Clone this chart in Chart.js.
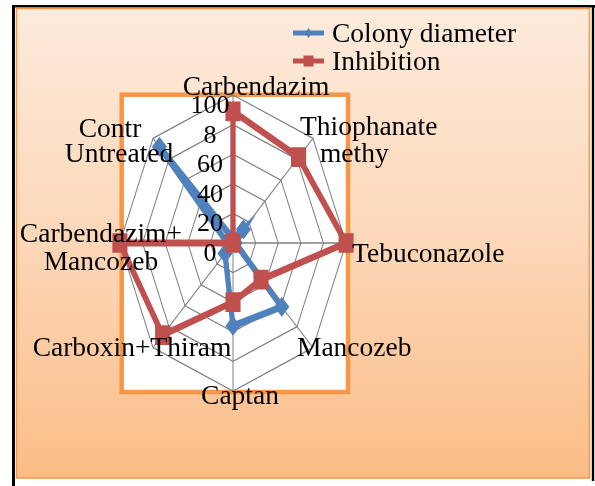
<!DOCTYPE html>
<html>
<head>
<meta charset="utf-8">
<script src="https://cdn.jsdelivr.net/npm/chart.js@4.4.0/dist/chart.umd.min.js"></script>
<style>
  html, body { margin: 0; padding: 0; background: #fff; }
  #wrap { position: relative; width: 595px; height: 486px; }
</style>
</head>
<body>
<div id="wrap"><canvas id="radar"></canvas></div>
<script>
// data
const categories = [["Carbendazim"], ["Thiophanate", "methy"], ["Tebuconazole"], ["Mancozeb"],
                    ["Captan"], ["Carboxin+Thiram"], ["Carbendazim+", "Mancozeb"], ["Contr", "Untreated"]];
const colonyDiameter = [3, 13, 2, 61, 56, 10, 5, 92];
const inhibition = [89, 82, 100, 35, 40, 88, 100, 0];
const tickValues = [0, 20, 40, 60, 80, 100];
const tickLabels = ["0", "20", "40", "60", "8", "100"];
const seriesNames = ["Colony diameter", "Inhibition"];
const seriesColors = ["#4f81bd", "#c0504d"];

const SX = 0.764; // picture is squeezed sideways
const FONT = '27.5px "Liberation Serif", "Times New Roman", serif';

// where each category text sits, relative to the outer corner of its spoke
const labelPos = [
  [{dx: 23, dy: 0, al: 'center'}],
  [{dx: -13, dy: -3, al: 'left'}, {dx: 7, dy: 24, al: 'left'}],
  [{dx: 6, dy: 19, al: 'left'}],
  [{dx: -16, dy: 8, al: 'left'}],
  [{dx: 7, dy: 13, al: 'center'}],
  [{dx: -21, dy: 8, al: 'center'}],
  [{dx: -19, dy: -1, al: 'center'}, {dx: -19, dy: 27, al: 'center'}],
  [{dx: -43, dy: -1, al: 'center'}, {dx: -34, dy: 24, al: 'center'}]
];

const squash = {
  id: 'squash',
  beforeDraw(chart) {
    const ctx = chart.ctx, r = chart.scales.r;
    ctx.save();
    ctx.fillStyle = '#fff';
    ctx.fillRect(0, 0, chart.width, chart.height);
    // black frame
    ctx.fillStyle = '#000';
    ctx.fillRect(12, 5, 3, 481);
    ctx.fillRect(12, 5, 583, 2.5);
    ctx.fillRect(591.8, 5, 2.4, 476);
    // peach panel
    const g = ctx.createLinearGradient(0, 8, 0, 478);
    g.addColorStop(0, '#fdebdc');
    g.addColorStop(0.5, '#fcd7b8');
    g.addColorStop(1, '#fbbd87');
    ctx.fillStyle = g;
    ctx.fillRect(16.5, 8.5, 573, 469.5);
    ctx.strokeStyle = '#f79646';
    ctx.lineWidth = 1.5;
    ctx.strokeRect(16.5, 8.5, 573, 469.5);
    // white plot box with orange border
    ctx.fillStyle = '#fff';
    ctx.fillRect(121.7, 94.7, 226.3, 297.3);
    ctx.lineWidth = 4.5;
    ctx.strokeRect(121.7, 94.7, 226.3, 297.3);
    ctx.restore();
    // squeeze the radar itself
    ctx.save();
    ctx.translate(r.xCenter, 0);
    ctx.scale(SX, 1);
    ctx.translate(-r.xCenter, 0);
  },
  afterDatasetsDraw(chart) {
    chart.ctx.restore();
  },
  afterDraw(chart) {
    const ctx = chart.ctx, r = chart.scales.r;
    const cx = r.xCenter, cy = r.yCenter;
    ctx.save();
    ctx.fillStyle = '#000';
    ctx.font = FONT;
    ctx.textBaseline = 'alphabetic';
    categories.forEach((lines, i) => {
      const p = r.getPointPosition(i, r.drawingArea);
      const vx = cx + (p.x - cx) * SX, vy = p.y;
      lines.forEach((txt, k) => {
        const lp = labelPos[i][k];
        ctx.textAlign = lp.al;
        ctx.fillText(txt, vx + lp.dx, vy + lp.dy);
      });
    });
    // tick numbers
    ctx.font = '26px "Liberation Serif", "Times New Roman", serif';
    ctx.textAlign = 'center';
    tickValues.forEach((v, i) => {
      const y = cy - r.getDistanceFromCenterForValue(v);
      ctx.fillText(tickLabels[i], cx - 23, y + 18);
    });
    // legend
    ctx.font = FONT;
    ctx.textAlign = 'left';
    seriesNames.forEach((name, i) => {
      const y = 33 + i * 28;
      ctx.strokeStyle = seriesColors[i];
      ctx.fillStyle = seriesColors[i];
      ctx.lineWidth = 5;
      ctx.beginPath();
      ctx.moveTo(293, y);
      ctx.lineTo(324, y);
      ctx.stroke();
      if (i === 0) {
        ctx.beginPath();
        ctx.moveTo(308.5, y - 5);
        ctx.lineTo(312, y);
        ctx.lineTo(308.5, y + 5);
        ctx.lineTo(305, y);
        ctx.closePath();
        ctx.fill();
      } else {
        ctx.fillRect(303.5, y - 5.5, 10, 11);
      }
      ctx.fillStyle = '#000';
      ctx.fillText(name, 332, y + 9);
    });
    ctx.restore();
  }
};

new Chart("radar", {
  type: 'radar',
  data: {
    labels: categories.map(c => c.join(' ')),
    datasets: [{
      label: seriesNames[0],
      data: colonyDiameter,
      borderColor: seriesColors[0],
      backgroundColor: seriesColors[0],
      borderWidth: 7,
      pointStyle: 'rectRot',
      pointRadius: 5,
      pointBackgroundColor: seriesColors[0],
      pointBorderColor: seriesColors[0],
      fill: false,
      clip: false,
      order: 2
    }, {
      label: seriesNames[1],
      data: inhibition,
      borderColor: seriesColors[1],
      backgroundColor: seriesColors[1],
      borderWidth: 7,
      pointStyle: 'rect',
      pointRadius: 9,
      pointBackgroundColor: seriesColors[1],
      pointBorderColor: seriesColors[1],
      fill: false,
      clip: false,
      order: 1
    }]
  },
  options: {
    responsive: true,
    maintainAspectRatio: false,
    animation: false,
    layout: { padding: { left: 85, right: 214, top: 95, bottom: 95 } },
    plugins: { legend: { display: false }, tooltip: { enabled: false } },
    scales: {
      r: {
        min: 0,
        max: 100,
        ticks: { display: false, stepSize: 20 },
        pointLabels: { display: false },
        grid: { color: '#808080', lineWidth: 1.3 },
        angleLines: { color: '#808080', lineWidth: 1.3 }
      }
    }
  },
  plugins: [squash]
});
</script>
</body>
</html>
